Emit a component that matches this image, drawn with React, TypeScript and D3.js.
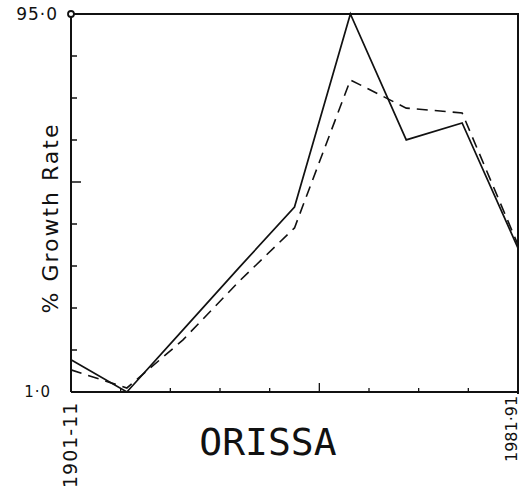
import * as d3 from "d3";

const decades = [
  "1901-11", "1911-21", "1921-31", "1931-41", "1941-51",
  "1951-61", "1961-71", "1971-81", "1981-91",
];
// solid line
const seriesA = [9.0, 1.0, 16.4, 31.8, 47.0, 95.0, 63.7, 67.9, 36.8];
// dashed line
const seriesB = [6.5, 2.0, 13.9, 28.4, 41.8, 78.6, 71.6, 70.4, 37.6];
const yTickLabels = ["1·0", "95·0"];
const firstLabel = "1901-11";
const lastLabel = "1981·91";

export default function App() {
  const width = 522;
  const height = 491;
  const margin = { top: 14, right: 4, bottom: 99, left: 71 };
  const left = margin.left;
  const right = width - margin.right;
  const top = margin.top;
  const bottom = height - margin.bottom;

  const x = d3.scalePoint<string>().domain(decades).range([left, right]);
  const xYears = d3.scaleLinear().domain([1901, 1991]).range([left, right]);
  const y = d3.scaleLinear().domain([1, 95]).range([bottom, top]);

  const yTicks = d3.range(1, 9).map((k) => 1 + (94 / 9) * k);
  const xTicks = d3.range(1911, 1991, 10);

  const line = d3
    .line<number>()
    .x((_, i) => x(decades[i]) || 0)
    .y((d) => y(d));

  const ink = "#111";

  return (
    <svg
      width={width}
      height={height}
      style={{ position: "absolute", left: 0, top: 0, background: "#fff" }}
    >
      <rect width={width} height={height} fill="#fff" />

      {/* frame */}
      <path
        d={`M${left},${bottom} L${left},${top} L${right},${top} L${right},${bottom + 2}`}
        fill="none"
        stroke={ink}
        strokeWidth={2}
      />
      <line x1={left} x2={right} y1={bottom} y2={bottom} stroke={ink} strokeWidth={2} />
      <circle cx={left} cy={top} r={3} fill="#fff" stroke={ink} strokeWidth={1.8} />

      {/* y ticks */}
      {yTicks.map((t, i) => (
        <line
          key={"yt" + i}
          x1={left}
          x2={left + (i === 4 ? 10 : 6)}
          y1={y(t)}
          y2={y(t)}
          stroke={ink}
          strokeWidth={1.5}
        />
      ))}

      {/* x ticks */}
      {xTicks.map((t) => (
        <line
          key={"xt" + t}
          x1={xYears(t)}
          x2={xYears(t)}
          y1={bottom}
          y2={bottom - (t === 1951 ? 9 : 4)}
          stroke={ink}
          strokeWidth={1.3}
        />
      ))}

      {/* data */}
      <path d={line(seriesA) || ""} fill="none" stroke={ink} strokeWidth={1.7} />
      <path
        d={line(seriesB) || ""}
        fill="none"
        stroke={ink}
        strokeWidth={1.6}
        strokeDasharray="11,7"
      />

      {/* y labels */}
      <text
        x={left - 13}
        y={y(95) + 6}
        textAnchor="end"
        fontFamily="DejaVu Sans"
        fontSize={17}
        letterSpacing={1}
        fill={ink}
      >
        {yTickLabels[1]}
      </text>
      <text
        x={left - 20}
        y={y(1) + 5}
        textAnchor="end"
        fontFamily="DejaVu Sans"
        fontSize={15}
        letterSpacing={1}
        fill={ink}
      >
        {yTickLabels[0]}
      </text>
      <text
        transform={`translate(${left - 13},${(top + bottom) / 2 + 15}) rotate(-90)`}
        textAnchor="middle"
        fontFamily="DejaVu Sans"
        fontSize={22}
        letterSpacing={2}
        fill={ink}
      >
        % Growth Rate
      </text>

      {/* x labels */}
      <text
        transform={`translate(${left + 6},${bottom + 96}) rotate(-90)`}
        textAnchor="start"
        fontFamily="DejaVu Sans"
        fontSize={19}
        letterSpacing={1}
        fill={ink}
      >
        {firstLabel}
      </text>
      <text
        transform={`translate(${right - 1},${bottom + 70}) rotate(-90)`}
        textAnchor="start"
        fontFamily="DejaVu Sans"
        fontSize={16}
        fill={ink}
      >
        {lastLabel}
      </text>
      <text
        x={268}
        y={455}
        textAnchor="middle"
        fontFamily="DejaVu Sans Mono"
        fontSize={38}
        fill={ink}
      >
        ORISSA
      </text>
    </svg>
  );
}
